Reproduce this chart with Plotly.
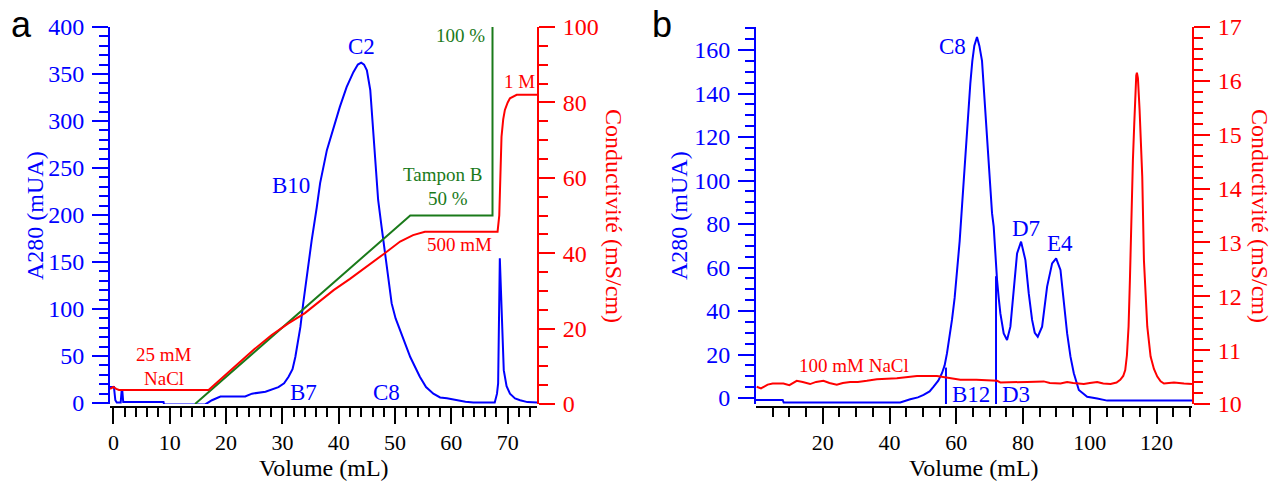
import plotly.graph_objects as go

W, H = 1279, 484
BLUE = "#0000ff"
RED = "#ff0000"
GREEN = "#1a7a1a"
FONT = "Liberation Serif"

# ---------------- Panel a data ----------------
vol_a_uv = [-0.6, 0.1, 0.35, 0.6, 1.3, 1.45, 1.6, 1.75, 8.9, 9.0, 16.3, 17.5, 19.0, 23.4, 24.6, 27.0,
            29.3, 30.3, 31.1, 31.8, 32.3, 33.2, 33.7, 34.3, 35.2, 36.1, 36.7, 37.9, 39.1, 40.2,
            41.4, 42.6, 43.4, 44.0, 44.5, 45.0, 45.6, 46.2, 47.0, 47.6, 48.5, 49.4, 50.1, 50.9, 52.7,
            54.4, 55.5, 56.8, 58.0, 59.2, 60.9, 62.5, 63.9, 67.7, 68.1, 68.3, 68.6, 68.9, 69.3, 69.8,
            70.4, 71.3, 72.2, 73.5, 75.2]
a280_a = [17, 17, 3, 0.5, 0.5, 12, 12, 1, 1, -1.5, -1.5, 3, 7, 7, 10, 12,
          17, 21, 28, 36, 49, 81, 106, 134, 173, 208, 234, 269, 294, 315,
          336, 352, 360, 362, 360, 354, 333, 287, 216, 188, 149, 106, 90, 78, 49,
          28, 17, 10, 6, 5, 3, 1.5, 0.7, 0.7, 10, 21, 154, 110, 35, 18,
          10, 5, 3, 1, 0.7]

vol_a_cond = [-0.6, 0.0, 0.5, 1.0, 16.9, 19.0, 22.2, 25.0, 28.1, 31.0, 34.0, 36.5, 39.1, 42.0, 45.0,
              48.0, 50.9, 53.2, 55.3, 68.2, 68.5, 68.7, 68.9, 69.2, 69.5, 70.0, 70.4, 71.6, 75.2]
cond_a = [4.0, 4.5, 4.0, 3.7, 3.7, 6.5, 10.8, 14.5, 18.3, 21.3, 24.1, 27.0, 30.2, 33.2, 36.4,
          39.8, 43.1, 44.8, 45.7, 45.7, 50, 62, 70.9, 75.5, 78, 80, 81.1, 82, 82]

vol_a_buffer = [14.5, 52.7, 67.3, 67.3]
buffer_b_pct = [0, 50, 50, 100]

# ---------------- Panel b data ----------------
vol_b_uv = [0.0, 8.0, 8.3, 43.2, 46.2, 48.5, 50.2, 52.0, 53.2, 54.6, 55.7, 56.5, 57.2, 58.0, 58.7,
            59.5, 60.2, 61.0, 61.7, 62.2, 62.7, 63.2, 63.7, 64.2, 64.8, 65.4, 66.2, 66.9, 67.7, 68.2,
            68.7, 69.2, 69.7, 70.2, 70.7, 71.2, 71.7, 72.2, 72.7, 73.2, 74.2, 75.2, 76.2, 77.2, 78.2,
            79.4, 80.7, 81.7, 82.7, 83.5, 84.4, 85.7, 87.2, 88.7, 89.9, 91.2, 92.2, 93.2, 94.2, 95.2,
            96.7, 99.2, 102.2, 105.2, 130.6]
a280_b = [-0.9, -0.9, -2.1, -2.1, -0.6, 0.3, 1.4, 3.0, 5.2, 8, 11.4, 15, 20.5, 28, 35.9,
          46, 57.3, 72, 88, 100, 112.5, 124.7, 134, 144.7, 155, 162, 166, 162, 155, 143,
          129, 117, 106, 95, 85, 78.8, 63.4, 54.3, 46, 38.9, 29.7, 26.7, 32.8, 51.2, 66.5,
          71.9, 63.4, 48.1, 35.9, 30, 28.2, 32.8, 51.2, 61.9, 64.2, 58.9, 45.1, 29.7, 19, 11.4,
          3.7, 0.6, -0.2, -1.2, -1.2]

vol_b_cond = [0.2, 1.5, 3.5, 5, 8.2, 10, 12.2, 14, 16.2, 18, 20.2, 22, 24.2, 26, 28.2, 30.5, 33.2,
              36.2, 42.2, 48.2, 54.2, 56, 58.2, 61.2, 66, 72.2, 73.2, 77, 81.2, 86.2, 88, 91.2, 93.2,
              95, 98.2, 100, 102.2, 104, 106.2, 108, 109.1, 110.0, 110.6, 111.1, 111.6, 112.0, 112.3,
              112.9, 113.3, 113.6, 113.9, 114.1, 114.4, 114.9, 115.3, 115.7, 116.2, 116.7, 117.2,
              118.2, 119.2, 120.2, 121.2, 122.2, 125.2, 128.2, 130.6]
cond_b = [10.32, 10.29, 10.36, 10.38, 10.38, 10.35, 10.43, 10.41, 10.37, 10.41, 10.43, 10.39, 10.36,
          10.39, 10.41, 10.41, 10.43, 10.46, 10.48, 10.52, 10.52, 10.50, 10.48, 10.45, 10.45, 10.43,
          10.40, 10.41, 10.41, 10.42, 10.39, 10.38, 10.41, 10.39, 10.37, 10.39, 10.41, 10.38, 10.37,
          10.40, 10.45, 10.52, 10.63, 10.9, 11.44, 12.3, 13.29, 14.53, 15.2, 15.77, 16.1, 16.15, 16.05,
          15.46, 14.9, 14.22, 12.67, 11.9, 11.44, 10.88, 10.65, 10.51, 10.42, 10.38, 10.4, 10.38, 10.37]

# fraction markers (panel b)
marker_vol = [56.9, 71.9]
marker_top = [14, 56]

# tick labels
xticks_a = [0, 10, 20, 30, 40, 50, 60, 70]
yticks_a = [0, 50, 100, 150, 200, 250, 300, 350, 400]
y2ticks_a = [0, 20, 40, 60, 80, 100]
xticks_b = [20, 40, 60, 80, 100, 120]
yticks_b = [0, 20, 40, 60, 80, 100, 120, 140, 160]
y2ticks_b = [10, 11, 12, 13, 14, 15, 16, 17]


def px(x):
    return x / W


def py(y):
    return 1 - y / H


fig = go.Figure()
lw = 2
fig.add_trace(go.Scatter(x=vol_a_uv, y=a280_a, mode="lines", line=dict(color=BLUE, width=lw),
                         xaxis="x", yaxis="y", showlegend=False))
fig.add_trace(go.Scatter(x=vol_a_buffer, y=buffer_b_pct, mode="lines", line=dict(color=GREEN, width=lw),
                         xaxis="x", yaxis="y2", showlegend=False))
fig.add_trace(go.Scatter(x=vol_a_cond, y=cond_a, mode="lines", line=dict(color=RED, width=lw),
                         xaxis="x", yaxis="y2", showlegend=False))

fig.add_trace(go.Scatter(x=vol_b_cond, y=cond_b, mode="lines", line=dict(color=RED, width=lw),
                         xaxis="x2", yaxis="y4", showlegend=False))
fig.add_trace(go.Scatter(x=vol_b_uv, y=a280_b, mode="lines", line=dict(color=BLUE, width=lw),
                         xaxis="x2", yaxis="y3", showlegend=False))
YB_RANGE = [-2.76, 170.6]
for v, t in zip(marker_vol, marker_top):
    fig.add_trace(go.Scatter(x=[v, v], y=[YB_RANGE[0], t], mode="lines", line=dict(color=BLUE, width=lw),
                             xaxis="x2", yaxis="y3", showlegend=False))

ydom = [py(404), py(27)]
xpos = py(407)
MAJ, MIN = 16, 9


def minor_vals(lo, hi, step, majors):
    out = []
    n = int(round((hi - lo) / step))
    for i in range(n + 1):
        v = round(lo + i * step, 3)
        if all(abs(v - m) > 1e-6 for m in majors):
            out.append(v)
    return out


def axis_style(color, tickvals, minors, fsize=24, **kw):
    d = dict(showline=True, linecolor=color, linewidth=2, ticks="outside", tickcolor=color,
             ticklen=MAJ, tickwidth=2, tickmode="array", tickvals=tickvals, automargin=False,
             tickfont=dict(family=FONT, size=fsize, color=color), showgrid=False, zeroline=False,
             minor=dict(tickmode="array", tickvals=minors, ticks="outside", ticklen=MIN,
                        tickwidth=2, tickcolor=color, showgrid=False))
    d.update(kw)
    return d


fig.update_layout(
    template="none",
    width=W, height=H, margin=dict(l=0, r=0, t=0, b=0, pad=0), autosize=False,
    paper_bgcolor="white", plot_bgcolor="white", font=dict(family=FONT),
    xaxis=axis_style("black", xticks_a, minor_vals(0, 74, 2, xticks_a), fsize=22,
                     domain=[px(110), px(537)], range=[-0.6, 75.2], anchor="free", position=xpos),
    yaxis=axis_style(BLUE, yticks_a, minor_vals(0, 400, 10, yticks_a),
                     domain=ydom, range=[-1, 400], anchor="x", ticklabelstandoff=3),
    yaxis2=axis_style(RED, y2ticks_a, minor_vals(0, 100, 5, y2ticks_a),
                      range=[0, 100], overlaying="y", side="right", anchor="x", ticklabelstandoff=3),
    xaxis2=axis_style("black", xticks_b, minor_vals(5, 130, 5, xticks_b), fsize=22,
                      domain=[px(756), px(1192)], range=[0, 130.6], anchor="free", position=xpos),
    yaxis3=axis_style(BLUE, yticks_b, minor_vals(5, 170, 5, yticks_b),
                      domain=ydom, range=YB_RANGE, anchor="x2", ticklabelstandoff=3),
    yaxis4=axis_style(RED, y2ticks_b, minor_vals(10, 17, 0.2, y2ticks_b),
                      range=[10, 17], overlaying="y3", side="right", anchor="x2", ticklabelstandoff=3),
)

annots = [
    # text, x, y, color, size, angle
    ("a", 22, 24, "black", 36, 0),
    ("b", 662, 24, "black", 36, 0),
    ("A280 (mUA)", 35, 216, BLUE, 24, -90),
    ("Conductivité (mS/cm)", 614, 216, RED, 24, 90),
    ("Volume (mL)", 324, 468, "black", 24, 0),
    ("A280 (mUA)", 679, 216, BLUE, 24, -90),
    ("Conductivité (mS/cm)", 1260, 216, RED, 24, 90),
    ("Volume (mL)", 974, 468, "black", 24, 0),
    ("C2", 361, 47, BLUE, 23, 0),
    ("B10", 291, 185, BLUE, 23, 0),
    ("B7", 303, 392, BLUE, 23, 0),
    ("C8", 386, 392, BLUE, 23, 0),
    ("25 mM", 164, 354, RED, 19, 0),
    ("NaCl", 164, 378, RED, 19, 0),
    ("Tampon B", 443, 175, GREEN, 19, 0),
    ("50 %", 448, 198, GREEN, 19, 0),
    ("100 %", 460, 35, GREEN, 19, 0),
    ("1 M", 519, 81, RED, 19, 0),
    ("500 mM", 459, 244, RED, 19, 0),
    ("C8", 953, 46, BLUE, 23, 0),
    ("D7", 1026, 228, BLUE, 23, 0),
    ("E4", 1060, 243, BLUE, 23, 0),
    ("B12", 971, 394, BLUE, 23, 0),
    ("D3", 1016, 394, BLUE, 23, 0),
    ("100 mM NaCl", 854, 365, RED, 19, 0),
]
for text, x, y, color, size, ang in annots:
    fig.add_annotation(text=text, x=px(x), y=py(y), xref="paper", yref="paper",
                       xanchor="center", yanchor="middle", showarrow=False, textangle=ang,
                       font=dict(family=FONT if text not in ("a", "b") else "Liberation Sans",
                                 size=size, color=color))

fig.write_html("out.html", config={"displayModeBar": False},
               post_script="document.body.style.margin='0px';document.body.style.padding='0px';")
